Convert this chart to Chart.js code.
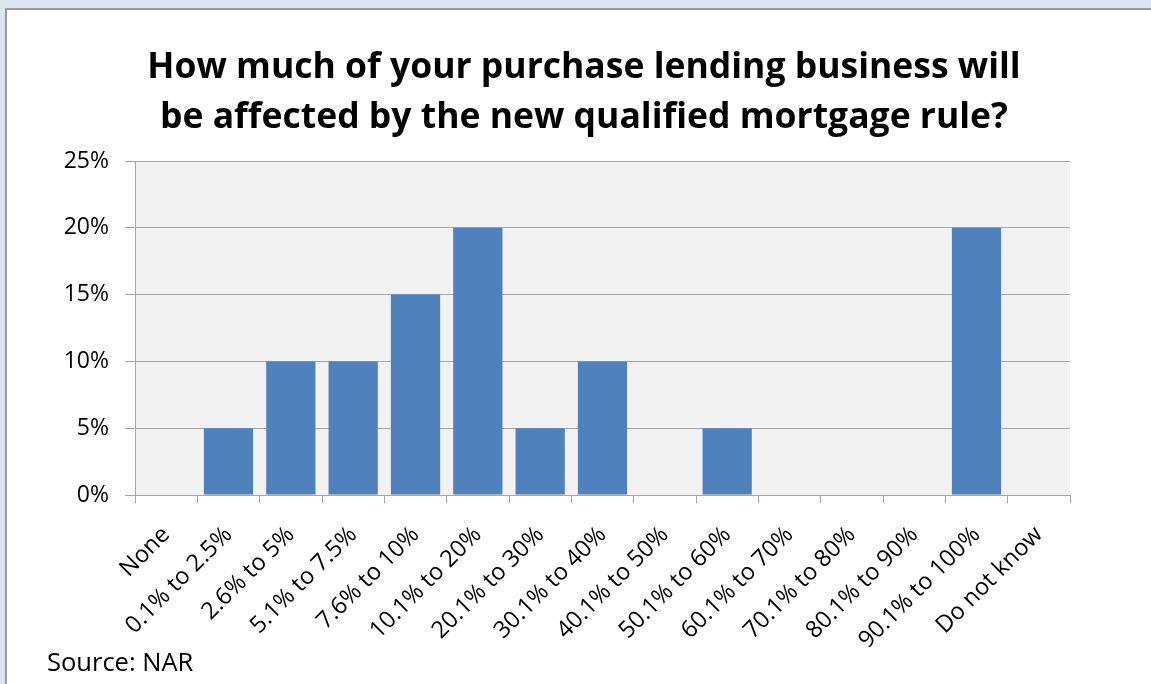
<!DOCTYPE html>
<html><head><meta charset="utf-8">
<script src="https://cdn.jsdelivr.net/npm/chart.js@4/dist/chart.umd.min.js"></script>
<style>
html,body{margin:0;padding:0;width:1151px;height:684px;overflow:hidden;background:#dbe5f1;}
#panel{position:absolute;left:5px;top:8px;width:1200px;height:700px;background:#fff;border-left:2px solid #9b9b9b;border-top:2px solid #9b9b9b;}
#c{position:absolute;left:0;top:0;}
</style></head><body>
<div id="panel"></div>
<canvas id="c" width="1151" height="684"></canvas>
<script>
const categories = ['None','0.1% to 2.5%','2.6% to 5%','5.1% to 7.5%','7.6% to 10%','10.1% to 20%','20.1% to 30%','30.1% to 40%','40.1% to 50%','50.1% to 60%','60.1% to 70%','70.1% to 80%','80.1% to 90%','90.1% to 100%','Do not know'];
const shares = [0,5,10,10,15,20,5,10,0,5,0,0,0,20,0];
const yTicks = [0,5,10,15,20,25];
const titleLines = ['How much of your purchase lending business will','be affected by the new qualified mortgage rule?'];
const sourceText = 'Source: NAR';

const GRID = '#a6a6a6';
const bgPlugin = {
  id:'plotBg',
  beforeDraw(chart){
    const {ctx, chartArea:a} = chart;
    ctx.save();
    ctx.fillStyle = '#f2f2f2';
    ctx.fillRect(a.left, a.top, a.right - a.left, a.bottom - a.top);
    ctx.restore();
  }
};

new Chart(document.getElementById('c'), {
  type:'bar',
  data:{labels:categories, datasets:[{data:shares, backgroundColor:'#4f81bd', borderWidth:0, barPercentage:0.79, categoryPercentage:1}]},
  options:{
    responsive:false, animation:false, devicePixelRatio:1,
    layout:{padding:{left:47,right:30,top:10,bottom:5}},
    plugins:{
      legend:{display:false}, tooltip:{enabled:false},
      title:{display:true,text:titleLines,color:'#000',font:{family:'Open Sans',size:35.5,weight:'bold',lineHeight:'50px'},padding:{top:33,bottom:18}},
      subtitle:{display:true,position:'bottom',align:'start',text:sourceText,color:'#000',font:{family:'Open Sans',size:25.5,lineHeight:'30px'},padding:0}
    },
    scales:{
      x:{
        grid:{display:true,drawOnChartArea:false,drawTicks:true,tickLength:8,color:GRID,offset:true},
        border:{color:GRID},
        ticks:{color:'#000',font:{family:'Open Sans',size:23.5},minRotation:45,maxRotation:45,autoSkip:false,padding:18},
        afterFit(s){ s.height = 154; }
      },
      y:{
        min:0,max:25,
        afterBuildTicks(s){ s.ticks = yTicks.map(v=>({value:v})); },
        ticks:{callback:v=>v+'%',padding:16,color:'#000',font:{family:'Open Sans',size:23}},
        grid:{color:GRID,tickLength:10},
        border:{color:GRID},
        afterFit(s){ s.width = 88; }
      },
      spacer:{
        type:'linear', position:'right', display:true,
        grid:{display:false,drawTicks:false}, border:{display:false}, ticks:{display:false},
        afterFit(s){ s.width = 51; }
      }
    }
  },
  plugins:[bgPlugin]
});
</script>
</body></html>
